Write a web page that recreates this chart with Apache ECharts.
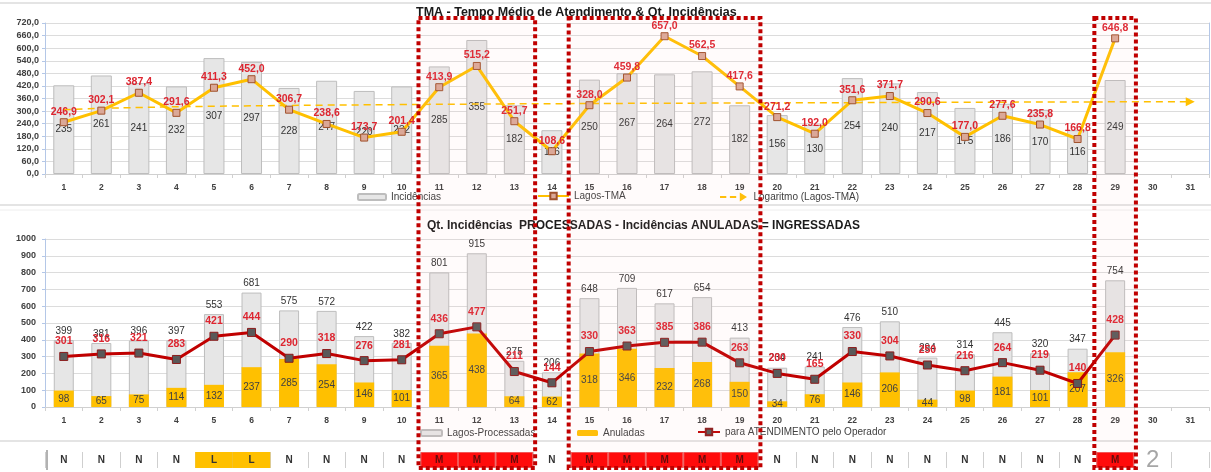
<!DOCTYPE html>
<html><head><meta charset="utf-8">
<script src="https://cdn.jsdelivr.net/npm/echarts@6/dist/echarts.min.js"></script>
<style>html,body{margin:0;padding:0;background:#fff}#c{width:1211px;height:472px}</style>
</head><body><div id="c"></div>
<script>
const days = ['1','2','3','4','5','6','7','8','9','10','11','12','13','14','15','16','17','18','19','20','21','22','23','24','25','26','27','28','29','30','31'];
const incidencias = [235,261,241,232,307,297,228,247,220,232,285,355,182,116,250,267,264,272,182,156,130,254,240,217,175,186,170,116,249];
const lagosTMA = [246.9,302.1,387.4,291.6,411.3,452.0,306.7,238.6,173.7,201.4,413.9,515.2,251.7,108.6,328.0,459.8,657.0,562.5,417.6,271.2,192.0,351.6,371.7,290.6,177.0,277.6,235.8,166.8,646.8];
const trendLog = [306,313,317,null,323,null,null,null,null,331,null,null,null,null,336,null,null,null,null,339,null,null,null,null,342,null,null,null,null,null,345];
const processadas = [399,381,396,397,553,681,575,572,422,382,801,915,275,206,648,709,617,654,413,234,241,476,510,294,314,445,320,347,754];
const anuladas = [98,65,75,114,132,237,285,254,146,101,365,438,64,62,318,346,232,268,150,34,76,146,206,44,98,181,101,207,326];
const atendimento = [301,316,321,283,421,444,290,318,276,281,436,477,211,144,330,363,385,386,263,200,165,330,304,250,216,264,219,140,428];
const status = ['N','N','N','N','L','L','N','N','N','N','M','M','M','N','M','M','M','M','M','N','N','N','N','N','N','N','N','N','M','2',''];
const highlightGroups = [['11','13'],['15','19'],['29','29']];
const tmaTicks = {min:0,max:720,interval:60};
const qtTicks = {min:0,max:1000,interval:100};

const FONT = 'Liberation Sans';
const txt = '#404040';
const chart = echarts.init(document.getElementById('c'), null, {renderer:'canvas'});

const xBase = (gi, showLabel) => ({
  type:'category', data:days, gridIndex:gi, boundaryGap:true,
  axisLine:{show: gi!==2, lineStyle:{color:'#d0d0d0'}},
  axisTick:{show: gi!==2, alignWithLabel:false, length:4, lineStyle:{color:'#d0d0d0'}},
  axisLabel:{show:showLabel, interval:0, margin:9, fontSize:8.5, fontWeight:'bold', color:txt, fontFamily:FONT},
  splitLine:{show: gi===2, interval:0, lineStyle:{color:'#cfcfcf', width:1}}
});

const statusColor = s => s==='M' ? '#FF0000' : (s==='L' ? '#FFC000' : 'rgba(0,0,0,0)');

const option = {
  animation:false,
  backgroundColor:'#ffffff',
  textStyle:{fontFamily:FONT},
  title:[
    {text:'TMA - Tempo Médio de Atendimento & Qt. Incidências', left:416, top:6, padding:0,
     textStyle:{fontSize:12.5, fontWeight:'bold', color:'#1a1a1a', fontFamily:FONT}},
    {text:'Qt. Incidências  PROCESSADAS - Incidências ANULADAS = INGRESSADAS', left:427, top:220, padding:0,
     textStyle:{fontSize:12, fontWeight:'bold', color:'#1a1a1a', fontFamily:FONT}}
  ],
  grid:[
    {left:45, right:2, top:23, height:151},
    {left:45, right:2, top:239, height:168},
    {left:45, right:2, top:452, height:16}
  ],
  legend:[
    {data:['Incidências'], left:357, top:192, padding:0, itemWidth:28, itemHeight:6, itemGap:0,
     textStyle:{fontSize:10, color:txt, fontFamily:FONT}},
    {data:['Lagos-TMA'], left:537, top:191, padding:0, itemWidth:31, itemHeight:8,
     textStyle:{fontSize:10, color:txt, fontFamily:FONT}},
    {data:[{name:'Logaritmo (Lagos-TMA)', icon:'path://M0,4h7v2h-7z M11,4h7v2h-7z M22,0L30,5L22,10z'}], left:720, top:192, padding:0, itemWidth:30, itemHeight:9,
     itemStyle:{color:'#FFC000'}, lineStyle:{opacity:0},
     textStyle:{fontSize:10, color:txt, fontFamily:FONT}},
    {data:['Lagos-Processadas'], left:420, top:428, padding:0, itemWidth:21, itemHeight:6,
     textStyle:{fontSize:10, color:txt, fontFamily:FONT}},
    {data:['Anuladas'], left:577, top:428, padding:0, itemWidth:21, itemHeight:6,
     textStyle:{fontSize:10, color:txt, fontFamily:FONT}},
    {data:['para ATENDIMENTO pelo Operador'], left:697, top:427, padding:0, itemWidth:22, itemHeight:8,
     textStyle:{fontSize:10, color:txt, fontFamily:FONT}}
  ],
  xAxis:[xBase(0,true), xBase(1,true), xBase(2,false)],
  yAxis:[
    {type:'value', gridIndex:0, min:tmaTicks.min, max:tmaTicks.max, interval:tmaTicks.interval,
     axisLine:{show:true, lineStyle:{color:'#B4C7E7'}}, axisTick:{show:true, length:3, lineStyle:{color:'#B4C7E7'}},
     axisLabel:{formatter:v=>v.toFixed(1).replace('.',','), fontSize:9, fontWeight:'bold', color:txt, margin:6, fontFamily:FONT},
     splitLine:{lineStyle:{color:'#DCDCDC'}}},
    {type:'value', gridIndex:0, min:0, max:400, position:'right',
     axisLine:{show:true, lineStyle:{color:'#B4C7E7'}}, axisTick:{show:false}, axisLabel:{show:false}, splitLine:{show:false}},
    {type:'value', gridIndex:1, min:qtTicks.min, max:qtTicks.max, interval:qtTicks.interval,
     axisLine:{show:true, lineStyle:{color:'#B4C7E7'}}, axisTick:{show:true, length:3, lineStyle:{color:'#B4C7E7'}},
     axisLabel:{formatter:v=>String(v), fontSize:9, fontWeight:'bold', color:txt, margin:9, fontFamily:FONT},
     splitLine:{lineStyle:{color:'#DCDCDC'}}},
    {type:'value', gridIndex:2, min:0, max:1, show:false}
  ],
  series:[
    {name:'Incidências', type:'bar', xAxisIndex:0, yAxisIndex:1, data:incidencias, barWidth:21,
     itemStyle:{color:'#E6E6E6', borderColor:'#BDBDBD', borderWidth:1},
     label:{show:true, position:'inside', fontSize:10, color:'#333', fontFamily:FONT}, z:2},
    {name:'Logaritmo (Lagos-TMA)', type:'line', xAxisIndex:0, yAxisIndex:0, data:trendLog.map((v,i)=> i===trendLog.length-1 ? {value:v, symbol:'triangle', symbolRotate:-90, symbolSize:[9,9]} : v),
     connectNulls:true, smooth:true, symbol:'none', showSymbol:true,
     lineStyle:{color:'#FFC000', width:1.5, type:[7,5]}, itemStyle:{color:'#FFC000'}, z:3},
    {name:'Lagos-TMA', type:'line', xAxisIndex:0, yAxisIndex:0, data:lagosTMA,
     symbol:'rect', symbolSize:7, lineStyle:{color:'#FFC000', width:3},
     itemStyle:{color:'#DBA897', borderColor:'#A0522D', borderWidth:1},
     label:{show:true, position:'top', distance:1, formatter:p=>p.value.toFixed(1).replace('.',','),
       fontSize:10.5, fontWeight:'bold', color:'#DD2530', fontFamily:FONT}, z:4},
    {name:'Lagos-Processadas', type:'bar', xAxisIndex:1, yAxisIndex:2, data:processadas, barWidth:20, barGap:'-100%',
     itemStyle:{color:'#E6E6E6', borderColor:'#BDBDBD', borderWidth:1},
     label:{show:true, position:'top', distance:4, fontSize:10, color:'#333', fontFamily:FONT}, z:2},
    {name:'Anuladas', type:'bar', xAxisIndex:1, yAxisIndex:2, data:anuladas, barWidth:20, barGap:'-100%',
     itemStyle:{color:'#FFC000'},
     label:{show:true, position:'inside', fontSize:10, color:'#404040', fontFamily:FONT}, z:3},
    {name:'para ATENDIMENTO pelo Operador', type:'line', xAxisIndex:1, yAxisIndex:2, data:atendimento,
     symbol:'rect', symbolSize:8, lineStyle:{color:'#C00000', width:3},
     itemStyle:{color:'#595959', borderColor:'#8B1A1A', borderWidth:1},
     label:{show:true, position:'top', distance:5, fontSize:10.5, fontWeight:'bold', color:'#DD2530', fontFamily:FONT}, z:4},
    {name:'status', type:'bar', xAxisIndex:2, yAxisIndex:3, barCategoryGap:'0%', barWidth:'100%',
     data:status.map(s=>({value:1, name:s,
       itemStyle:{color:statusColor(s), borderColor: s==='M' ? '#F25050' : 'rgba(0,0,0,0)', borderWidth: s==='M'?1:0},
       label:{show:s!=='', formatter:s, position:'inside',
         fontSize: s==='2' ? 24 : 10, fontWeight: s==='2' ? 'normal' : 'bold',
         color: s==='2' ? '#A6A6A6' : (s==='M' ? '#5a0000' : '#333'), fontFamily:FONT}})),
     silent:true, z:1}
  ]
};
chart.setOption(option);

const gfx = [
  {type:'line', shape:{x1:0,y1:3,x2:1211,y2:3}, style:{stroke:'#E4E4E4', lineWidth:2}, silent:true},
  {type:'line', shape:{x1:0,y1:205,x2:1211,y2:205}, style:{stroke:'#E4E4E4', lineWidth:2}, silent:true},
  {type:'line', shape:{x1:0,y1:210,x2:1211,y2:210}, style:{stroke:'#EEEEEE', lineWidth:1}, silent:true},
  {type:'line', shape:{x1:0,y1:441,x2:1211,y2:441}, style:{stroke:'#E4E4E4', lineWidth:2}, silent:true},
  {type:'line', shape:{x1:47,y1:450,x2:47,y2:470}, style:{stroke:'#999', lineWidth:1.5}, silent:true}
];
const x0 = chart.convertToPixel({xAxisIndex:2}, days[0]);
const x1 = chart.convertToPixel({xAxisIndex:2}, days[1]);
const bw = x1 - x0;
highlightGroups.forEach(g=>{
  const a = chart.convertToPixel({xAxisIndex:2}, g[0]) - bw/2 - 2;
  const b = chart.convertToPixel({xAxisIndex:2}, g[1]) + bw/2 + 2;
  gfx.push({type:'rect', z:100, silent:true, shape:{x:a, y:18, width:b-a, height:450},
    style:{fill:'rgba(255,180,190,0.06)', stroke:'#C00000', lineWidth:4, lineDash:[4,3]}});
});
chart.setOption({graphic:gfx});
</script></body></html>
